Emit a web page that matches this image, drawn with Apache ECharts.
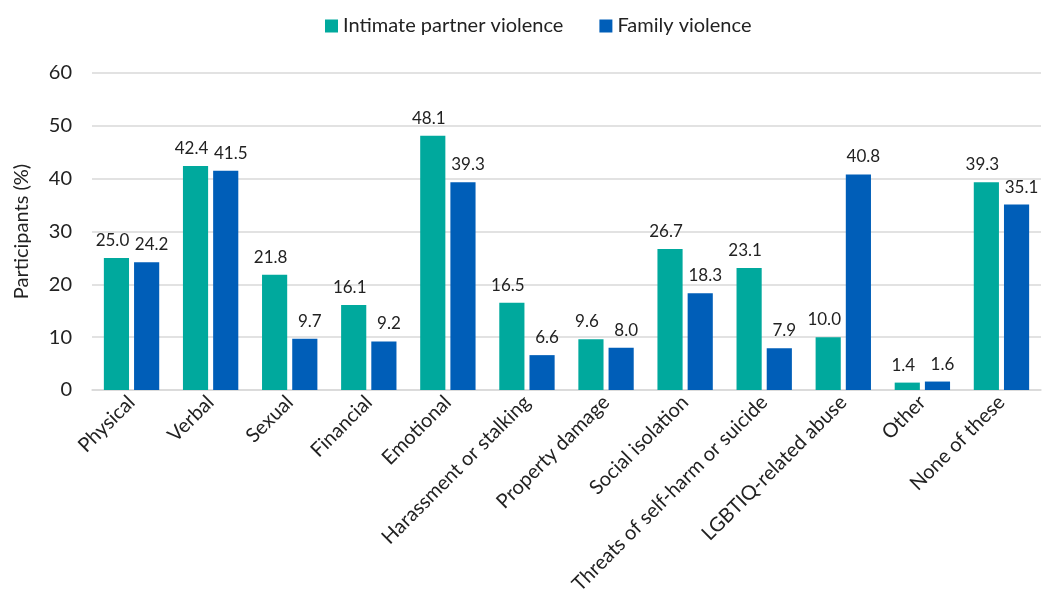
<!DOCTYPE html>
<html>
<head>
<meta charset="utf-8">
<script src="https://cdn.jsdelivr.net/npm/echarts@6/dist/echarts.min.js"></script>
<style>
  html, body { margin: 0; padding: 0; background: #fff; }
  #chart { width: 1043px; height: 606px; }
</style>
</head>
<body>
<div id="chart"></div>
<script>
const categories = ['Physical', 'Verbal', 'Sexual', 'Financial', 'Emotional', 'Harassment or stalking',
  'Property damage', 'Social isolation', 'Threats of self-harm or suicide', 'LGBTIQ-related abuse',
  'Other', 'None of these']
const intimatePartner = [25.0, 42.4, 21.8, 16.1, 48.1, 16.5, 9.6, 26.7, 23.1, 10.0, 1.4, 39.3]
const familyViolence = [24.2, 41.5, 9.7, 9.2, 39.3, 6.6, 8.0, 18.3, 7.9, 40.8, 1.6, 35.1]

const font = 'Lato, "Open Sans", sans-serif'
const colors = { ipv: '#00A99D', family: '#005EB8' }

const chart = echarts.init(document.getElementById('chart'))

const makeLabel = dx => ({
  show: true,
  position: 'top',
  distance: 9,
  offset: [dx, 0],
  color: '#222',
  fontSize: 17,
  fontFamily: font,
  formatter: p => p.value.toFixed(1)
})

chart.setOption({
  animation: false,
  textStyle: { fontFamily: font },
  legend: {
    top: 11,
    left: 320,
    itemWidth: 13,
    itemHeight: 13,
    itemGap: 36,
    icon: 'rect',
    textStyle: { fontSize: 20, color: '#222', fontFamily: font },
    data: ['Intimate partner violence', 'Family violence']
  },
  grid: { left: 92, right: 2, top: 73, bottom: 216 },
  xAxis: {
    type: 'category',
    data: categories,
    axisLine: { lineStyle: { color: '#d9d9d9', width: 1.5 } },
    axisTick: { show: false },
    axisLabel: {
      rotate: 45,
      interval: 0,
      fontSize: 20,
      color: '#222',
      fontFamily: font,
      margin: 9
    }
  },
  yAxis: {
    type: 'value',
    min: 0,
    max: 60,
    interval: 10,
    name: 'Participants (%)',
    nameLocation: 'middle',
    nameGap: 60,
    nameTextStyle: { fontSize: 20, color: '#222', fontFamily: font },
    axisLine: { show: false },
    axisTick: { show: false },
    axisLabel: { fontSize: 20, color: '#222', fontFamily: font, margin: 20 },
    splitLine: { lineStyle: { color: '#d9d9d9', width: 1.5 } }
  },
  series: [
    {
      name: 'Intimate partner violence',
      type: 'bar',
      data: intimatePartner,
      itemStyle: { color: colors.ipv },
      barGap: '20%',
      barCategoryGap: '30%',
      label: makeLabel(-4)
    },
    {
      name: 'Family violence',
      type: 'bar',
      data: familyViolence,
      itemStyle: { color: colors.family },
      label: makeLabel(5)
    }
  ]
})
</script>
</body>
</html>
